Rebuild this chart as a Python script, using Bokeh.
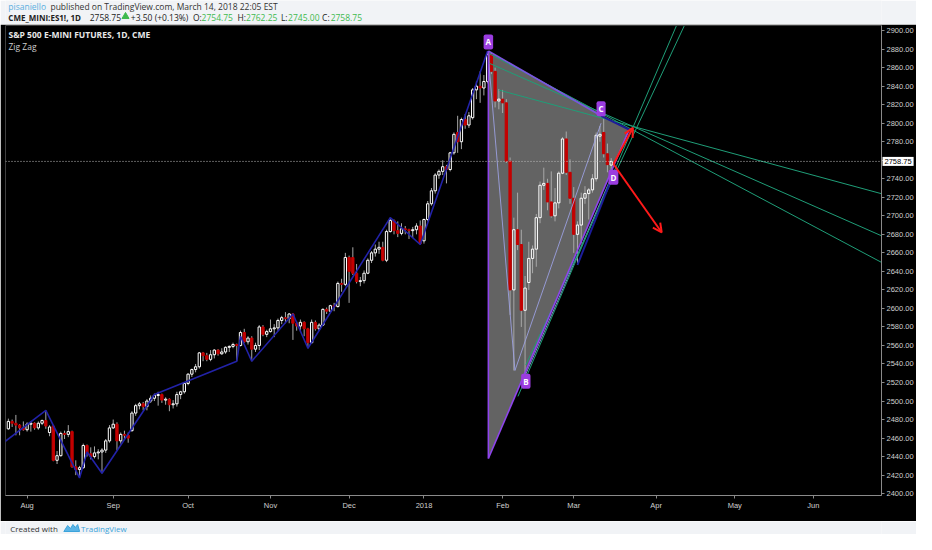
from bokeh.plotting import figure
from bokeh.layouts import column
from bokeh.models import Range1d, FixedTicker, NumeralTickFormatter, Label, Span, Arrow, OpenHead
from bokeh.core.properties import value
from bokeh.embed import file_html
from bokeh.resources import INLINE

# ---------------- data (ES1! daily) ----------------
opens = [2470, 2478, 2476, 2474, 2471,
         2469, 2475, 2476, 2471, 2476, 2479, 2466, 2473, 2436, 2441, 2465, 2464, 2467, 2429, 2426, 2428, 2452, 2443, 2440, 2444, 2445, 2447, 2457,
         2471, 2475, 2457, 2464, 2463, 2468, 2487, 2495, 2497, 2494, 2500, 2503, 2506, 2507, 2501, 2502, 2496, 2497, 2507, 2510,
         2519, 2529, 2534, 2537, 2552, 2549, 2545, 2550, 2555, 2551, 2553, 2558, 2559, 2561, 2560, 2574, 2564, 2568, 2556, 2560, 2580, 2572,
         2575, 2578, 2579, 2587, 2590, 2589, 2594, 2584, 2581, 2585, 2578, 2563, 2585, 2578, 2582, 2599, 2597, 2603, 2602, 2627, 2626,
         2655, 2655, 2638, 2629, 2630, 2638, 2652, 2660, 2664, 2666, 2652, 2683, 2695, 2684, 2681, 2686, 2685, 2684, 2685, 2689,
         2673, 2696, 2713, 2727, 2744, 2748, 2753, 2750, 2768, 2790, 2780, 2804, 2798, 2806, 2836, 2840, 2838, 2845, 2874, 2856, 2824,
         2826, 2822, 2759, 2620, 2685, 2669, 2598, 2628, 2654, 2664, 2698, 2733, 2735, 2715, 2700, 2714, 2746, 2783, 2747,
         2719, 2680, 2690, 2719, 2724, 2728, 2740, 2786, 2790, 2767, 2754.75]
highs = [2481, 2480, 2485, 2475, 2478,
         2477, 2478, 2477, 2478, 2480, 2490, 2474, 2474, 2446, 2467, 2468, 2474, 2468, 2436, 2430, 2454, 2453, 2450, 2451, 2448, 2449, 2459, 2474,
         2480, 2477, 2466, 2468, 2466, 2489, 2497, 2499, 2499, 2502, 2506, 2508, 2510, 2508, 2504, 2503, 2501, 2510, 2511, 2520,
         2530, 2535, 2540, 2553, 2553, 2552, 2555, 2556, 2556, 2557, 2559, 2560, 2563, 2562, 2576, 2578, 2570, 2570, 2563, 2582, 2582, 2577,
         2588, 2583, 2589, 2592, 2596, 2595, 2595, 2586, 2588, 2586, 2579, 2588, 2587, 2584, 2600, 2601, 2604, 2606, 2629, 2632, 2660,
         2657, 2666, 2648, 2634, 2641, 2654, 2662, 2669, 2672, 2672, 2685, 2698, 2696, 2694, 2692, 2689, 2686, 2688, 2692, 2695,
         2697, 2716, 2730, 2746, 2750, 2760, 2755, 2769, 2790, 2808, 2806, 2810, 2812, 2838, 2845, 2856, 2852, 2878, 2876, 2860, 2837,
         2836, 2826, 2763, 2698, 2725, 2685, 2635, 2672, 2668, 2702, 2737, 2752, 2740, 2748, 2730, 2748, 2785, 2791, 2761,
         2731, 2694, 2725, 2732, 2730, 2745, 2790, 2797, 2808, 2778, 2762.25]
lows = [2469, 2472, 2463, 2463, 2468,
        2467, 2467, 2469, 2469, 2474, 2470, 2462, 2435, 2432, 2440, 2459, 2461, 2428, 2420, 2417, 2427, 2440, 2437, 2438, 2437, 2422, 2444, 2455,
        2470, 2447, 2454, 2458, 2455, 2467, 2484, 2491, 2490, 2490, 2498, 2500, 2495, 2498, 2496, 2489, 2492, 2494, 2502, 2508,
        2517, 2526, 2531, 2535, 2543, 2543, 2543, 2546, 2549, 2550, 2551, 2553, 2557, 2543, 2559, 2563, 2561, 2543, 2553, 2555, 2570, 2569,
        2574, 2569, 2576, 2583, 2584, 2584, 2566, 2576, 2575, 2570, 2557, 2562, 2576, 2576, 2581, 2594, 2596, 2597, 2601, 2618, 2624,
        2606, 2636, 2627, 2624, 2627, 2637, 2649, 2656, 2659, 2651, 2650, 2682, 2680, 2677, 2679, 2680, 2675, 2676, 2680, 2669,
        2670, 2694, 2711, 2724, 2740, 2744, 2735, 2748, 2766, 2768, 2772, 2794, 2795, 2804, 2826, 2822, 2830, 2843, 2853, 2817, 2815,
        2811, 2757, 2593, 2533, 2663, 2580, 2529, 2620, 2638, 2645, 2692, 2728, 2706, 2698, 2694, 2708, 2745, 2744, 2713,
        2660, 2647, 2670, 2713, 2696, 2725, 2737, 2780, 2763, 2747, 2745]
closes = [2478, 2476, 2474, 2471, 2469,
          2475, 2476, 2471, 2476, 2479, 2473, 2472, 2436, 2441, 2465, 2464, 2467, 2429, 2426, 2428, 2452, 2443, 2440, 2444, 2445, 2447, 2457, 2471,
          2475, 2457, 2464, 2463, 2460, 2487, 2495, 2497, 2494, 2500, 2503, 2506, 2507, 2501, 2502, 2496, 2497, 2507, 2510, 2519,
          2529, 2534, 2537, 2552, 2549, 2545, 2550, 2555, 2551, 2553, 2558, 2559, 2561, 2560, 2574, 2564, 2568, 2556, 2560, 2580, 2572, 2575,
          2578, 2579, 2587, 2590, 2589, 2594, 2584, 2581, 2585, 2578, 2563, 2585, 2578, 2582, 2599, 2597, 2603, 2602, 2627, 2626, 2655,
          2640, 2638, 2629, 2630, 2638, 2652, 2660, 2664, 2666, 2652, 2683, 2695, 2684, 2681, 2686, 2685, 2684, 2685, 2689, 2670,
          2696, 2713, 2727, 2744, 2748, 2753, 2750, 2768, 2788, 2780, 2804, 2798, 2808, 2836, 2840, 2838, 2845, 2874, 2856, 2824, 2826,
          2822, 2759, 2620, 2685, 2669, 2598, 2622, 2654, 2664, 2698, 2733, 2735, 2715, 2700, 2714, 2746, 2783, 2747, 2719,
          2680, 2690, 2719, 2724, 2728, 2740, 2787, 2788, 2767, 2755.25, 2758.75]
first_bar = -5          # bar index of the first candle (bar 0 = 1 Aug 2017)

month_ticks = [0, 23, 43, 65, 86, 106, 127, 146, 168, 189, 210]
month_labels = ["Aug", "Sep", "Oct", "Nov", "Dec", "2018", "Feb", "Mar", "Apr", "May", "Jun"]
price_ticks = [2400, 2420, 2440, 2460, 2480, 2500, 2520, 2540, 2560, 2580, 2600, 2620, 2640,
               2660, 2680, 2700, 2720, 2740, 2760, 2780, 2800, 2820, 2840, 2860, 2880, 2900]
last_price = 2758.75

# Zig Zag pivots (bar, price)
zz_x = [-6, 5, 14, 16, 20, 34, 56, 57, 60, 71, 75, 97, 105, 123]
zz_y = [2456, 2490, 2417, 2445, 2422, 2507, 2543, 2570, 2543, 2594, 2557, 2698, 2669, 2878]

# Harmonic drawing points
pat_lbl = ["A", "B", "C", "D"]
pat_x = [123.2, 133.2, 153.3, 156.6]
pat_y = [2878, 2529, 2808, 2745]
pat_off = [-9, 7, -7, 3]
apex = (160.8, 2793)
base = (123.2, 2438)

green_down = [((123.5, 2875), (229.0, 2648.0)),
              ((123.5, 2864.6), (229.0, 2677.0)),
              ((126.0, 2835.8), (229.0, 2723.0))]
green_up = [((131.1, 2505), (173.4, 2905)),
            ((133.2, 2539), (175.5, 2905))]
lavender = [((123.2, 2871), (130.3, 2533)),
            ((130.3, 2533), (153.3, 2800)),
            ((133.2, 2529), (156.6, 2747))]
navy_seg = [((153.3, 2808), (160.8, 2793)),
            ((147.0, 2647), (156.6, 2745))]
arrow_start = (156.6, 2756)
arrow_up_end = (161.8, 2795)
arrow_dn_end = (169.5, 2682)

# ---------------- styling ----------------
BG = "#f1f3f6"
FONT = value("Open Sans")
W = 916
X_START, X_END = -5.77, 228.2
Y_START, Y_END = 2398.0, 2905.5

# ---------------- header ----------------
HH = 24
hdr = figure(width=W, height=HH, x_range=Range1d(0, W), y_range=Range1d(0, HH),
             output_backend="svg", toolbar_location=None, x_axis_location=None, y_axis_location=None,
             min_border=0, background_fill_color=BG, border_fill_color=BG, outline_line_color=None)
hdr.grid.visible = False
dark = "#222222"
green = "#3dba4e"
hdr.text(x=[3, 47], y=[HH - 6, HH - 6], text=["pisaniello", "published on TradingView.com, March 14, 2018 22:05 EST"],
         text_color=["#5aaee0", "#333333"], text_font=FONT, text_font_size="8.5px",
         text_baseline="middle", text_align="left")
hdr.text(x=[3], y=[HH - 16.5], text=["CME_MINI:ES1!, 1D"], text_color=[dark], text_font=FONT,
         text_font_size="8px", text_font_style="bold", text_baseline="middle", text_align="left")
l2_x = [88, 131, 196, 205, 242.5, 251.5, 288, 295.5, 331, 340]
l2_t = ["2758.75", "+3.50 (+0.13%)", "O:", "2754.75", "H:", "2762.25",
        "L:", "2745.00", "C:", "2758.75"]
l2_c = [dark, dark, dark, green, dark, green, dark, green, dark, green]
hdr.text(x=l2_x, y=[HH - 16.5] * len(l2_x), text=l2_t, text_color=l2_c, text_font=FONT,
         text_font_size="8.5px", text_baseline="middle", text_align="left")
hdr.scatter(x=[125.5], y=[HH - 16], marker="triangle", size=7, color=green)

# ---------------- main chart ----------------
p = figure(width=W, height=497, x_range=Range1d(X_START, X_END), y_range=Range1d(Y_START, Y_END),
           output_backend="svg", toolbar_location=None, y_axis_location="right",
           background_fill_color="black", border_fill_color="black",
           min_border_left=5, min_border_right=0, min_border_top=1, min_border_bottom=14,
           outline_line_color=None)
p.grid.visible = False

for ax in (p.xaxis[0], p.yaxis[0]):
    ax.axis_line_color = "#8a8a8a"
    ax.major_tick_line_color = "#8a8a8a"
    ax.minor_tick_line_color = None
    ax.major_tick_in = 0
    ax.major_tick_out = 3
    ax.major_label_text_color = "#d0d0d0"
    ax.major_label_text_font = "Liberation Sans"
    ax.major_label_text_font_size = "7.5px"
    ax.major_label_standoff = 2

p.yaxis.ticker = FixedTicker(ticks=price_ticks)
p.yaxis.formatter = NumeralTickFormatter(format="0.00")
p.yaxis.major_label_overrides = {2760: ""}
p.xaxis.ticker = FixedTicker(ticks=month_ticks)
p.xaxis.major_label_overrides = {t: l for t, l in zip(month_ticks, month_labels)}

# pattern fill (under candles)
p.patch(x=[pat_x[0], apex[0], base[0]], y=[pat_y[0], apex[1], base[1]],
        fill_color="#6e6e6e", fill_alpha=0.9, line_color=None)

# candles
bars = list(range(first_bar, first_bar + len(closes)))
tops = [max(o, c) for o, c in zip(opens, closes)]
bots = [min(o, c) for o, c in zip(opens, closes)]
wick = "#a8a8a8"
p.segment(x0=bars, y0=tops, x1=bars, y1=highs, line_color=wick, line_width=1)
p.segment(x0=bars, y0=lows, x1=bars, y1=bots, line_color=wick, line_width=1)
up = [i for i in range(len(bars)) if closes[i] >= opens[i]]
dn = [i for i in range(len(bars)) if closes[i] < opens[i]]
p.vbar(x=[bars[i] for i in up], top=[tops[i] for i in up], bottom=[bots[i] for i in up],
       width=0.62, fill_alpha=0, line_color="white", line_width=1)
p.vbar(x=[bars[i] for i in dn], top=[tops[i] for i in dn], bottom=[bots[i] for i in dn],
       width=0.62, fill_color="#c40000", line_color="#c40000", line_width=1)

# zig zag
p.line(zz_x, zz_y, line_color="#2222a8", line_width=1.6)


def segs(lst, **kw):
    p.segment(x0=[a[0] for a, b in lst], y0=[a[1] for a, b in lst],
              x1=[b[0] for a, b in lst], y1=[b[1] for a, b in lst], **kw)


segs(lavender, line_color="#9fa3e8", line_width=1, line_alpha=0.85)
segs(green_down, line_color="#1f9e78", line_width=1)
segs(green_up, line_color="#1f9e78", line_width=1)
segs([((pat_x[0], pat_y[0]), base), (base, apex)], line_color="#8e44ec", line_width=1.6)
segs([((pat_x[0], pat_y[0]), (pat_x[2], pat_y[2]))], line_color="#7a55e0", line_width=1.6)
segs(navy_seg, line_color="#1c1c9a", line_width=2)

# last price line
p.add_layout(Span(location=last_price, dimension="width", line_color="#bdbdbd",
                  line_dash="1 2", line_width=1))

# red arrows
for end in (arrow_up_end, arrow_dn_end):
    p.add_layout(Arrow(end=OpenHead(size=9, line_color="#ff1a1a", line_width=2),
                       x_start=arrow_start[0], y_start=arrow_start[1], x_end=end[0], y_end=end[1],
                       line_color="#ff1a1a", line_width=2))

# point labels
p.text(x=pat_x, y=pat_y, text=pat_lbl, y_offset=pat_off, text_align="center", text_baseline="middle",
       text_color="white", text_font=FONT, text_font_size="8px", text_font_style="bold",
       background_fill_color="#9b3de0", border_radius=2, padding=2)

# legend texts
p.add_layout(Label(x=3, y=2895.8, x_units="screen", text="S&P 500 E-MINI FUTURES, 1D, CME",
                   text_color="#e8e8e8", text_font="Open Sans", text_font_size="8.5px",
                   text_font_style="bold", text_baseline="middle"))
p.add_layout(Label(x=3, y=2883.2, x_units="screen", text="Zig Zag",
                   text_color="#cfcfcf", text_font="Open Sans", text_font_size="8.5px",
                   text_baseline="middle"))

# last price box on the price axis (side panel, so it is not clipped to the frame)
p.add_layout(Label(x=X_END, y=last_price, x_offset=1, text="2758.75", text_color="black",
                   text_font="Liberation Sans", text_font_size="7.5px", text_baseline="middle",
                   text_align="left", background_fill_color="white", padding=2), "below")

# ---------------- footer ----------------
FH = 13
ftr = figure(width=W, height=FH, x_range=Range1d(0, W), y_range=Range1d(0, FH),
             output_backend="svg", toolbar_location=None, x_axis_location=None, y_axis_location=None,
             min_border=0, background_fill_color=BG, border_fill_color=BG, outline_line_color=None)
ftr.grid.visible = False
ftr.text(x=[5, 79], y=[6.5, 6.5], text=["Created with", "TradingView"], text_color=["#333333", "#3ba3db"],
         text_font=FONT, text_font_size="8px", text_baseline="middle", text_align="left")
ftr.patch(x=[61, 65, 68, 70.5, 73, 75.5, 77.5, 61], y=[3, 9, 6, 10, 7, 10, 3, 3],
          fill_color="#5ab4e6", line_color="#3ba3db", line_width=1)

layout = column(hdr, p, ftr, spacing=0)
open("out.html", "w").write(file_html(layout, INLINE))
